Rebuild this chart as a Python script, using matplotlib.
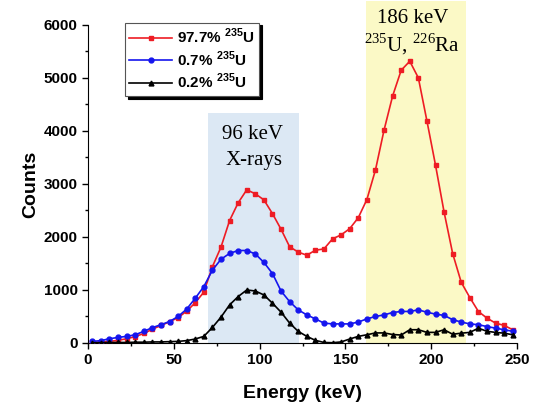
import numpy as np
import matplotlib
matplotlib.use("Agg")
import matplotlib.pyplot as plt
from matplotlib.patches import Rectangle
from matplotlib.ticker import MultipleLocator

plt.rcParams['font.family'] = ['Liberation Sans', 'DejaVu Sans']
plt.rcParams['font.weight'] = 'bold'
plt.rcParams['mathtext.fontset'] = 'custom'
plt.rcParams['mathtext.rm'] = 'Liberation Serif:normal'
plt.rcParams['mathtext.bf'] = 'Liberation Sans:bold'

# channel energies (keV)
energy = [2.5, 7.5, 12.5, 17.5, 22.5, 27.5, 32.5, 37.5, 42.5, 47.5,
          52.5, 57.5, 62.5, 67.5, 72.5, 77.5, 82.5, 87.5, 92.5, 97.5,
          102.5, 107.5, 112.5, 117.5, 122.5, 127.5, 132.5, 137.5, 142.5, 147.5,
          152.5, 157.5, 162.5, 167.5, 172.5, 177.5, 182.5, 187.5, 192.5, 197.5,
          202.5, 207.5, 212.5, 217.5, 222.5, 227.5, 232.5, 237.5, 242.5, 247.5]

counts_977 = [10, 20, 30, 50, 80, 120, 180, 260, 330, 400,
              480, 600, 760, 960, 1440, 1810, 2310, 2645, 2890, 2815,
              2700, 2440, 2145, 1815, 1715, 1656, 1750, 1775, 1965, 2040,
              2157, 2364, 2706, 3264, 4015, 4660, 5146, 5316, 5003, 4190,
              3356, 2470, 1688, 1144, 857, 594, 469, 375, 332, 250]

counts_07 = [30, 45, 80, 105, 125, 155, 220, 290, 345, 405,
             500, 640, 845, 1065, 1375, 1580, 1690, 1745, 1745, 1680,
             1520, 1310, 980, 780, 625, 530, 455, 375, 360, 360,
             360, 395, 455, 500, 530, 575, 595, 595, 625, 580,
             545, 520, 440, 395, 360, 345, 310, 280, 250, 220]

counts_02 = [5, 5, 10, 10, 10, 15, 15, 20, 20, 25,
             30, 45, 75, 125, 294, 488, 719, 876, 1000, 981,
             906, 750, 581, 375, 219, 125, 50, 10, 5, 20,
             75, 125, 155, 190, 190, 160, 150, 250, 250, 200,
             200, 250, 165, 185, 200, 280, 220, 200, 185, 155]

fig = plt.figure(figsize=(5.38, 4.09), dpi=100)
ax = fig.add_axes([0.1636, 0.1614, 0.7974, 0.7775])

# highlighted peak regions
ax.add_patch(Rectangle((70, 0), 53, 4340, facecolor='#dce8f4', edgecolor='none', zorder=0))
ax.add_patch(Rectangle((162, 0), 58, 6450, facecolor='#fbf9c6', edgecolor='none',
                       zorder=0, clip_on=False))

ax.plot(energy, counts_977, color='#ee1c24', marker='s', markersize=3, linewidth=1.2,
        label=r'97.7% $^{\mathbf{235}}$U', zorder=3)
ax.plot(energy, counts_07, color='#1515ee', marker='o', markersize=3.5, linewidth=1.2,
        label=r'0.7% $^{\mathbf{235}}$U', zorder=3)
ax.plot(energy, counts_02, color='black', marker='^', markersize=3.5, linewidth=1.2,
        label=r'0.2% $^{\mathbf{235}}$U', zorder=4)

ax.text(96, 3930, '96 keV', family='Liberation Serif', weight='normal', fontsize=15,
        ha='center', va='center')
ax.text(97, 3440, 'X-rays', family='Liberation Serif', weight='normal', fontsize=15,
        ha='center', va='center')
ax.text(189, 6120, '186 keV', family='Liberation Serif', weight='normal', fontsize=15,
        ha='center', va='center')
ax.text(189, 5640, r'$^{235}$U, $^{226}$Ra', family='Liberation Serif', weight='normal',
        fontsize=15, ha='center', va='center')

ax.set_xlim(0, 250)
ax.set_ylim(0, 6000)
ax.xaxis.set_major_locator(MultipleLocator(50))
ax.xaxis.set_minor_locator(MultipleLocator(25))
ax.yaxis.set_major_locator(MultipleLocator(1000))
ax.yaxis.set_minor_locator(MultipleLocator(500))
ax.tick_params(which='major', direction='out', length=4, width=1, labelsize=11)
ax.tick_params(which='minor', direction='out', length=2.5, width=1)
ax.spines['top'].set_visible(False)
ax.spines['right'].set_visible(False)

ax.set_xlabel('Energy (keV)', fontsize=14, fontweight='bold', labelpad=13)
ax.set_ylabel('Counts', fontsize=14, fontweight='bold', labelpad=3)

leg = ax.legend(loc='upper left', bbox_to_anchor=(0.075, 1.022), fontsize=11,
                frameon=True, fancybox=False, edgecolor='#555555',
                shadow={'color': 'black', 'alpha': 1}, handlelength=2.8,
                handletextpad=0.3, labelspacing=0.2, borderpad=0.3,
                borderaxespad=0.3)
leg.get_frame().set_linewidth(0.8)

fig.savefig('out.png', dpi=100)
